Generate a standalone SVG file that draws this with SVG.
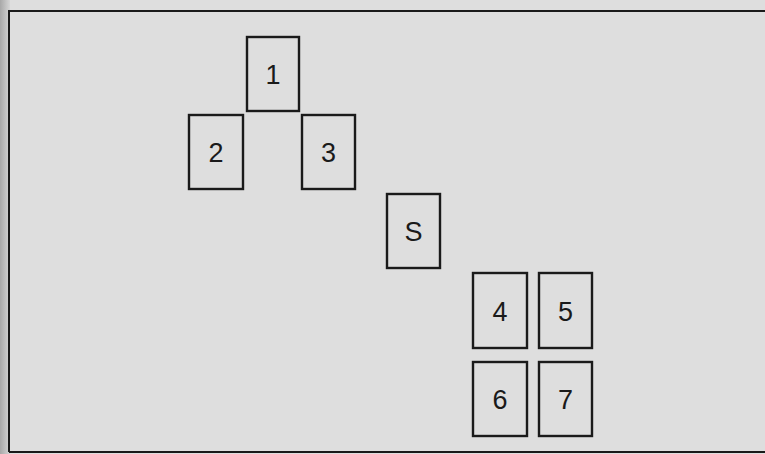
<svg xmlns="http://www.w3.org/2000/svg" width="765" height="454" viewBox="0 0 765 454">
<defs>
<linearGradient id="edge" x1="0" y1="0" x2="1" y2="0">
<stop offset="0" stop-color="#a8a8a8"/>
<stop offset="1" stop-color="#d6d6d6"/>
</linearGradient>
<style>
.box{fill:none;stroke:#1a1a1a;stroke-width:2.4}
.lbl{font-family:"Liberation Sans",Arial,sans-serif;font-size:27px;fill:#1a1a1a;text-anchor:middle;dominant-baseline:central}
</style>
</defs>
<rect x="0" y="0" width="765" height="454" fill="#dedede"/>
<rect x="0" y="0" width="10" height="454" fill="url(#edge)"/>
<path d="M9,452 V11 H765" fill="none" stroke="#1a1a1a" stroke-width="2"/>
<path d="M9,452 H765" fill="none" stroke="#1a1a1a" stroke-width="2"/>
<g id="node1"><rect class="box" x="247" y="37" width="52" height="74"/><text class="lbl" x="273" y="75">1</text></g>
<g id="node2"><rect class="box" x="189" y="115" width="54" height="74"/><text class="lbl" x="216" y="153">2</text></g>
<g id="node3"><rect class="box" x="302" y="115" width="53" height="74"/><text class="lbl" x="328.5" y="153">3</text></g>
<g id="nodeS"><rect class="box" x="387" y="194" width="53" height="74"/><text class="lbl" x="413.5" y="232">S</text></g>
<g id="node4"><rect class="box" x="473" y="273" width="54" height="75"/><text class="lbl" x="500" y="312">4</text></g>
<g id="node5"><rect class="box" x="539" y="273" width="53" height="75"/><text class="lbl" x="565.5" y="312">5</text></g>
<g id="node6"><rect class="box" x="473" y="362" width="54" height="74"/><text class="lbl" x="500" y="400">6</text></g>
<g id="node7"><rect class="box" x="539" y="362" width="53" height="74"/><text class="lbl" x="565.5" y="400">7</text></g>
<g id="connectors"></g>
</svg>
